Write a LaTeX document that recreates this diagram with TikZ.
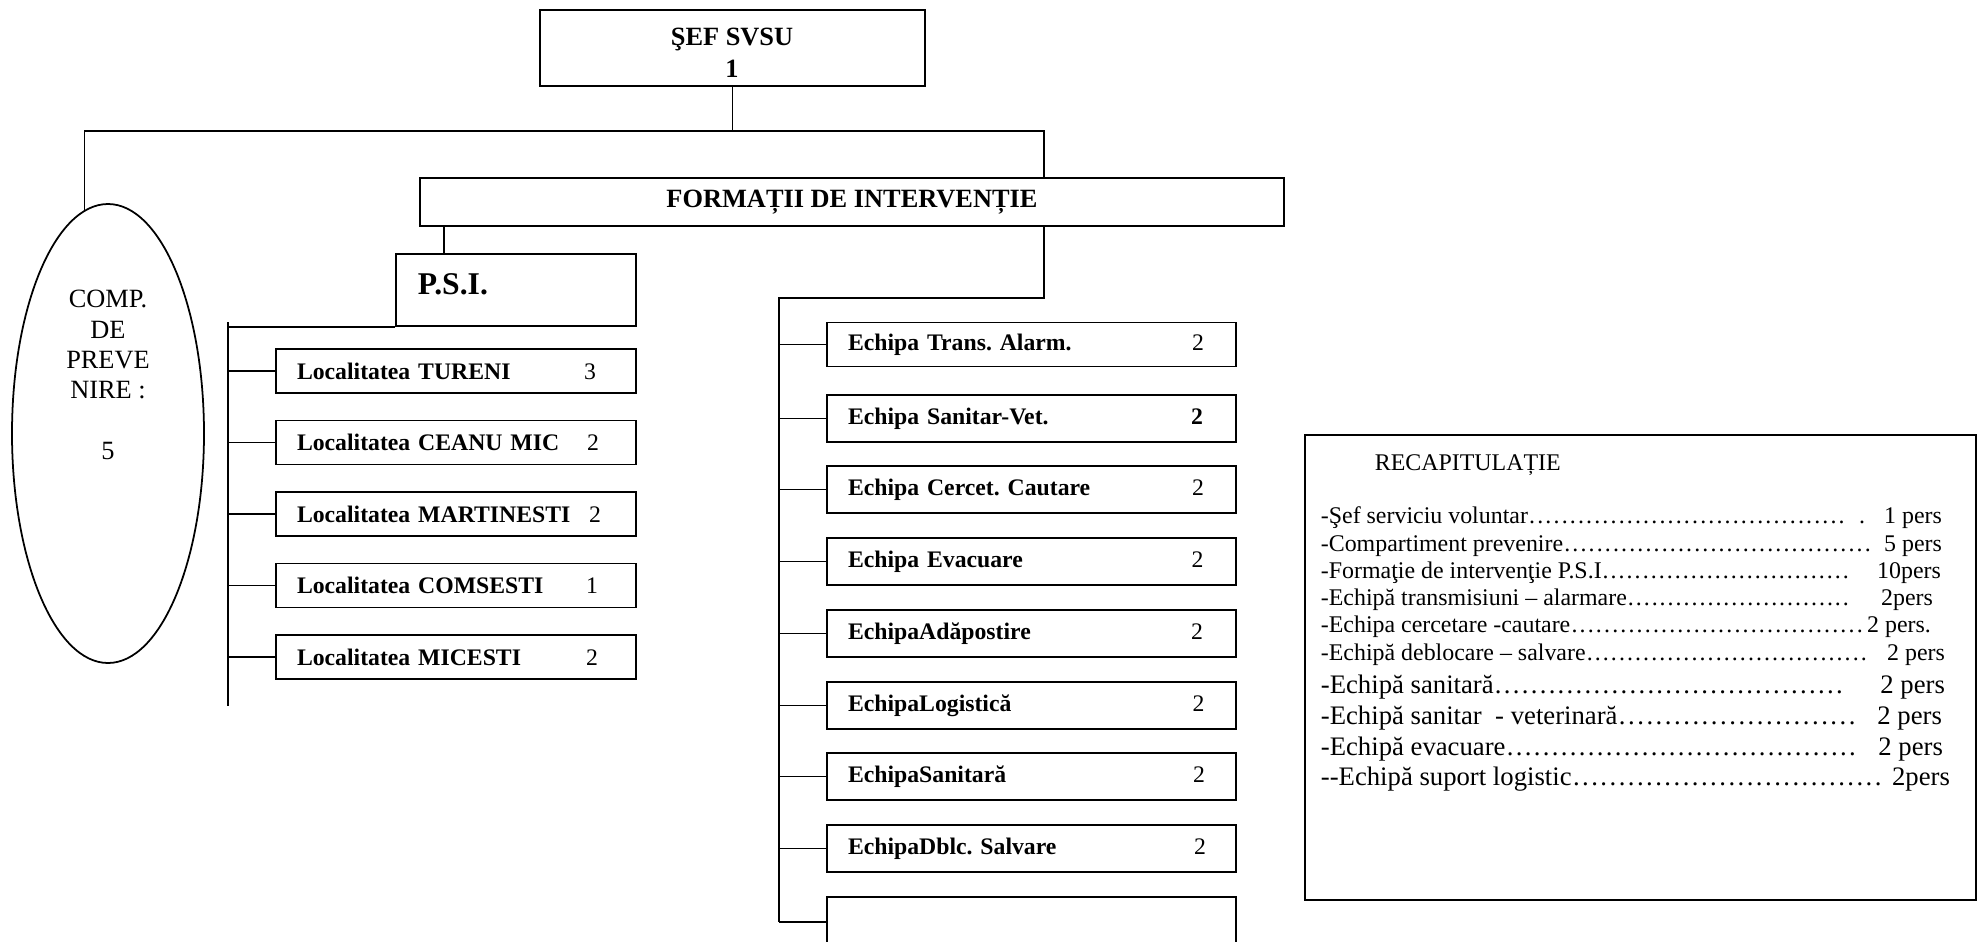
\documentclass[tikz,border=0pt]{standalone}
\usepackage{fontspec}
\setmainfont{Liberation Serif}
\usetikzlibrary{shapes.geometric}

\newcommand{\dotrow}{\xleaders\hbox to 0.333em{\hss.\hss}\hfill}

\tikzset{
  box/.style={draw, line width=1pt, rectangle, inner sep=0pt},
  bigbold/.style={font=\fontsize{15}{17}\selectfont\bfseries},
  locbox/.style={box, minimum height=0.88cm, text width=6.36cm, inner xsep=0.42cm, align=left, font=\fontsize{13.5}{16}\selectfont\frenchspacing},
  echbox/.style={box, minimum height=0.94cm, text width=7.34cm, inner xsep=0.42cm, align=left, font=\fontsize{13.5}{16}\selectfont\frenchspacing},
  recline/.style={anchor=base west, inner sep=0pt, font=\fontsize{13.6}{16}\selectfont\frenchspacing},
  recbig/.style={recline, font=\fontsize{15.2}{18}\selectfont\frenchspacing},
}

\begin{document}
\begin{tikzpicture}[x=2cm, y=-2cm, line width=1pt]
    \useasboundingbox (0,0) rectangle (19.79,9.41);
    % sef
    \node[box, minimum width=7.7cm, minimum height=1.52cm] (sef) at (7.325,0.48) {};
    \node[bigbold, align=center, inner sep=0pt] (seftxt) at (7.32,0.53) {ŞEF SVSU\\[1pt]1};
    % compartiment prevenire
    \node[draw, ellipse, line width=1pt, minimum width=3.84cm, minimum height=9.18cm, inner sep=0pt] (comp) at (1.08,4.335) {};
    \node[align=center, font=\fontsize{15}{17.3}\selectfont] (comptxt) at (1.08,3.75) {COMP.\\DE\\PREVE\\NIRE :\\~\\5};
    % formatii
    \node[box, bigbold, minimum width=17.28cm, minimum height=0.96cm] (form) at (8.52,2.02) {FORMAȚII DE INTERVENȚIE};
    % psi
    \node[box, minimum width=4.8cm, minimum height=1.44cm] (psi) at (5.16,2.90) {};
    \node[anchor=base west, inner sep=0pt, font=\fontsize{18}{20}\selectfont\bfseries] (psilbl) at (4.17,2.945) {P.S.I.};

    % top lines
    \coordinate (bar) at (7.32,1.31);
    \coordinate (fx) at (10.44,0);
    \coordinate (px) at (4.44,0);
    \draw (sef.south) -- (sef.south |- bar);
    \draw (comp.96) -- (comp.96 |- bar) -- (bar -| fx) -- (form.north -| fx);
    \draw (form.south -| px) -- (psi.north -| px);

    % localitati
    \node[locbox] (l1) at (4.56,3.71) {\makebox[5.74cm][l]{\bfseries Localitatea TURENI}3};
    \node[locbox] (l2) at (4.56,4.425) {\makebox[5.80cm][l]{\bfseries Localitatea CEANU MIC}2};
    \node[locbox] (l3) at (4.56,5.14) {\makebox[5.84cm][l]{\bfseries Localitatea MARTINESTI}2};
    \node[locbox] (l4) at (4.56,5.855) {\makebox[5.78cm][l]{\bfseries Localitatea COMSESTI}1};
    \node[locbox] (l5) at (4.56,6.57) {\makebox[5.78cm][l]{\bfseries Localitatea MICESTI}2};
    % |
    \coordinate (lbtop) at (2.28,3.22);
    \coordinate (lbbot) at (2.28,7.06);
    \draw (lbtop) -- (lbbot);
    \draw (psi.south west) -- (psi.south west -| lbtop);
    \draw (l1.west) -- (l1.west -| lbtop);
    \draw (l2.west) -- (l2.west -| lbtop);
    \draw (l3.west) -- (l3.west -| lbtop);
    \draw (l4.west) -- (l4.west -| lbtop);
    \draw (l5.west) -- (l5.west -| lbtop);

    % echipe
    \node[echbox, minimum height=0.88cm] (e1) at (10.315,3.445) {\makebox[6.88cm][l]{\bfseries Echipa Trans. Alarm.}2};
    \node[echbox] (e2) at (10.315,4.185) {\makebox[6.86cm][l]{\bfseries Echipa Sanitar-Vet.}\textbf{2}};
    \node[echbox] (e3) at (10.315,4.895) {\makebox[6.88cm][l]{\bfseries Echipa Cercet. Cautare}2};
    \node[echbox] (e4) at (10.315,5.615) {\makebox[6.87cm][l]{\bfseries Echipa Evacuare}2};
    \node[echbox] (e5) at (10.315,6.335) {\makebox[6.86cm][l]{\bfseries EchipaAdăpostire}2};
    \node[echbox] (e6) at (10.315,7.055) {\makebox[6.89cm][l]{\bfseries EchipaLogistică}2};
    \node[echbox] (e7) at (10.315,7.765) {\makebox[6.90cm][l]{\bfseries EchipaSanitară}2};
    \node[echbox] (e8) at (10.315,8.485) {\makebox[6.92cm][l]{\bfseries EchipaDblc. Salvare}2};
    \node[echbox, minimum height=1.2cm] (e9) at (10.315,9.27) {};
    % |
    \coordinate (ebtop) at (7.79,2.98);
    \coordinate (ebbot) at (7.79,9.22);
    \draw (form.south -| fx) |- (ebtop) -- (ebbot);
    \draw (e1.west) -- (e1.west -| ebtop);
    \draw (e2.west) -- (e2.west -| ebtop);
    \draw (e3.west) -- (e3.west -| ebtop);
    \draw (e4.west) -- (e4.west -| ebtop);
    \draw (e5.west) -- (e5.west -| ebtop);
    \draw (e6.west) -- (e6.west -| ebtop);
    \draw (e7.west) -- (e7.west -| ebtop);
    \draw (e8.west) -- (e8.west -| ebtop);
    \draw (e9.west |- ebbot) -- (ebbot);

    % recapitulatie
    \node[box, minimum width=13.42cm, minimum height=9.3cm] (rec) at (16.405,6.675) {};
    \node[recline] (rtitle) at (13.74,4.70) {RECAPITULAȚIE};
    \node[recline] (r1) at (13.20,5.23) {\makebox[10.5cm][l]{-Şef serviciu voluntar\dotrow}\makebox[1.92cm][r]{.\hspace{0.38cm}1 pers}};
    \node[recline] (r2) at (13.20,5.51) {\makebox[11.02cm][l]{-Compartiment prevenire\dotrow}\makebox[1.40cm][r]{5 pers}};
    \node[recline] (r3) at (13.20,5.78) {\makebox[10.58cm][l]{-Formaţie de intervenţie P.S.I\dotrow}\makebox[1.82cm][r]{10pers}};
    \node[recline] (r4) at (13.20,6.05) {\makebox[10.58cm][l]{-Echipă transmisiuni – alarmare\dotrow}\makebox[1.66cm][r]{2pers}};
    \node[recline] (r5) at (13.20,6.32) {\makebox[10.86cm][l]{-Echipa cercetare -cautare\dotrow}\makebox[1.34cm][r]{2 pers.}};
    \node[recline] (r6) at (13.20,6.60) {\makebox[10.94cm][l]{-Echipă deblocare – salvare\dotrow}\makebox[1.54cm][r]{2 pers}};
    \node[recbig] (r7) at (13.20,6.93) {\makebox[10.46cm][l]{-Echipă sanitară\dotrow}\makebox[2.02cm][r]{2 pers}};
    \node[recbig] (r8) at (13.20,7.24) {\makebox[10.72cm][l]{-Echipă sanitar\ \ - veterinară\dotrow}\makebox[1.70cm][r]{2 pers}};
    \node[recbig] (r9) at (13.20,7.55) {\makebox[10.72cm][l]{-Echipă evacuare\dotrow}\makebox[1.72cm][r]{2 pers}};
    \node[recbig] (r10) at (13.20,7.85) {\makebox[11.24cm][l]{-{}-Echipă suport logistic\dotrow}\makebox[1.34cm][r]{2pers}};
\end{tikzpicture}
\end{document}
